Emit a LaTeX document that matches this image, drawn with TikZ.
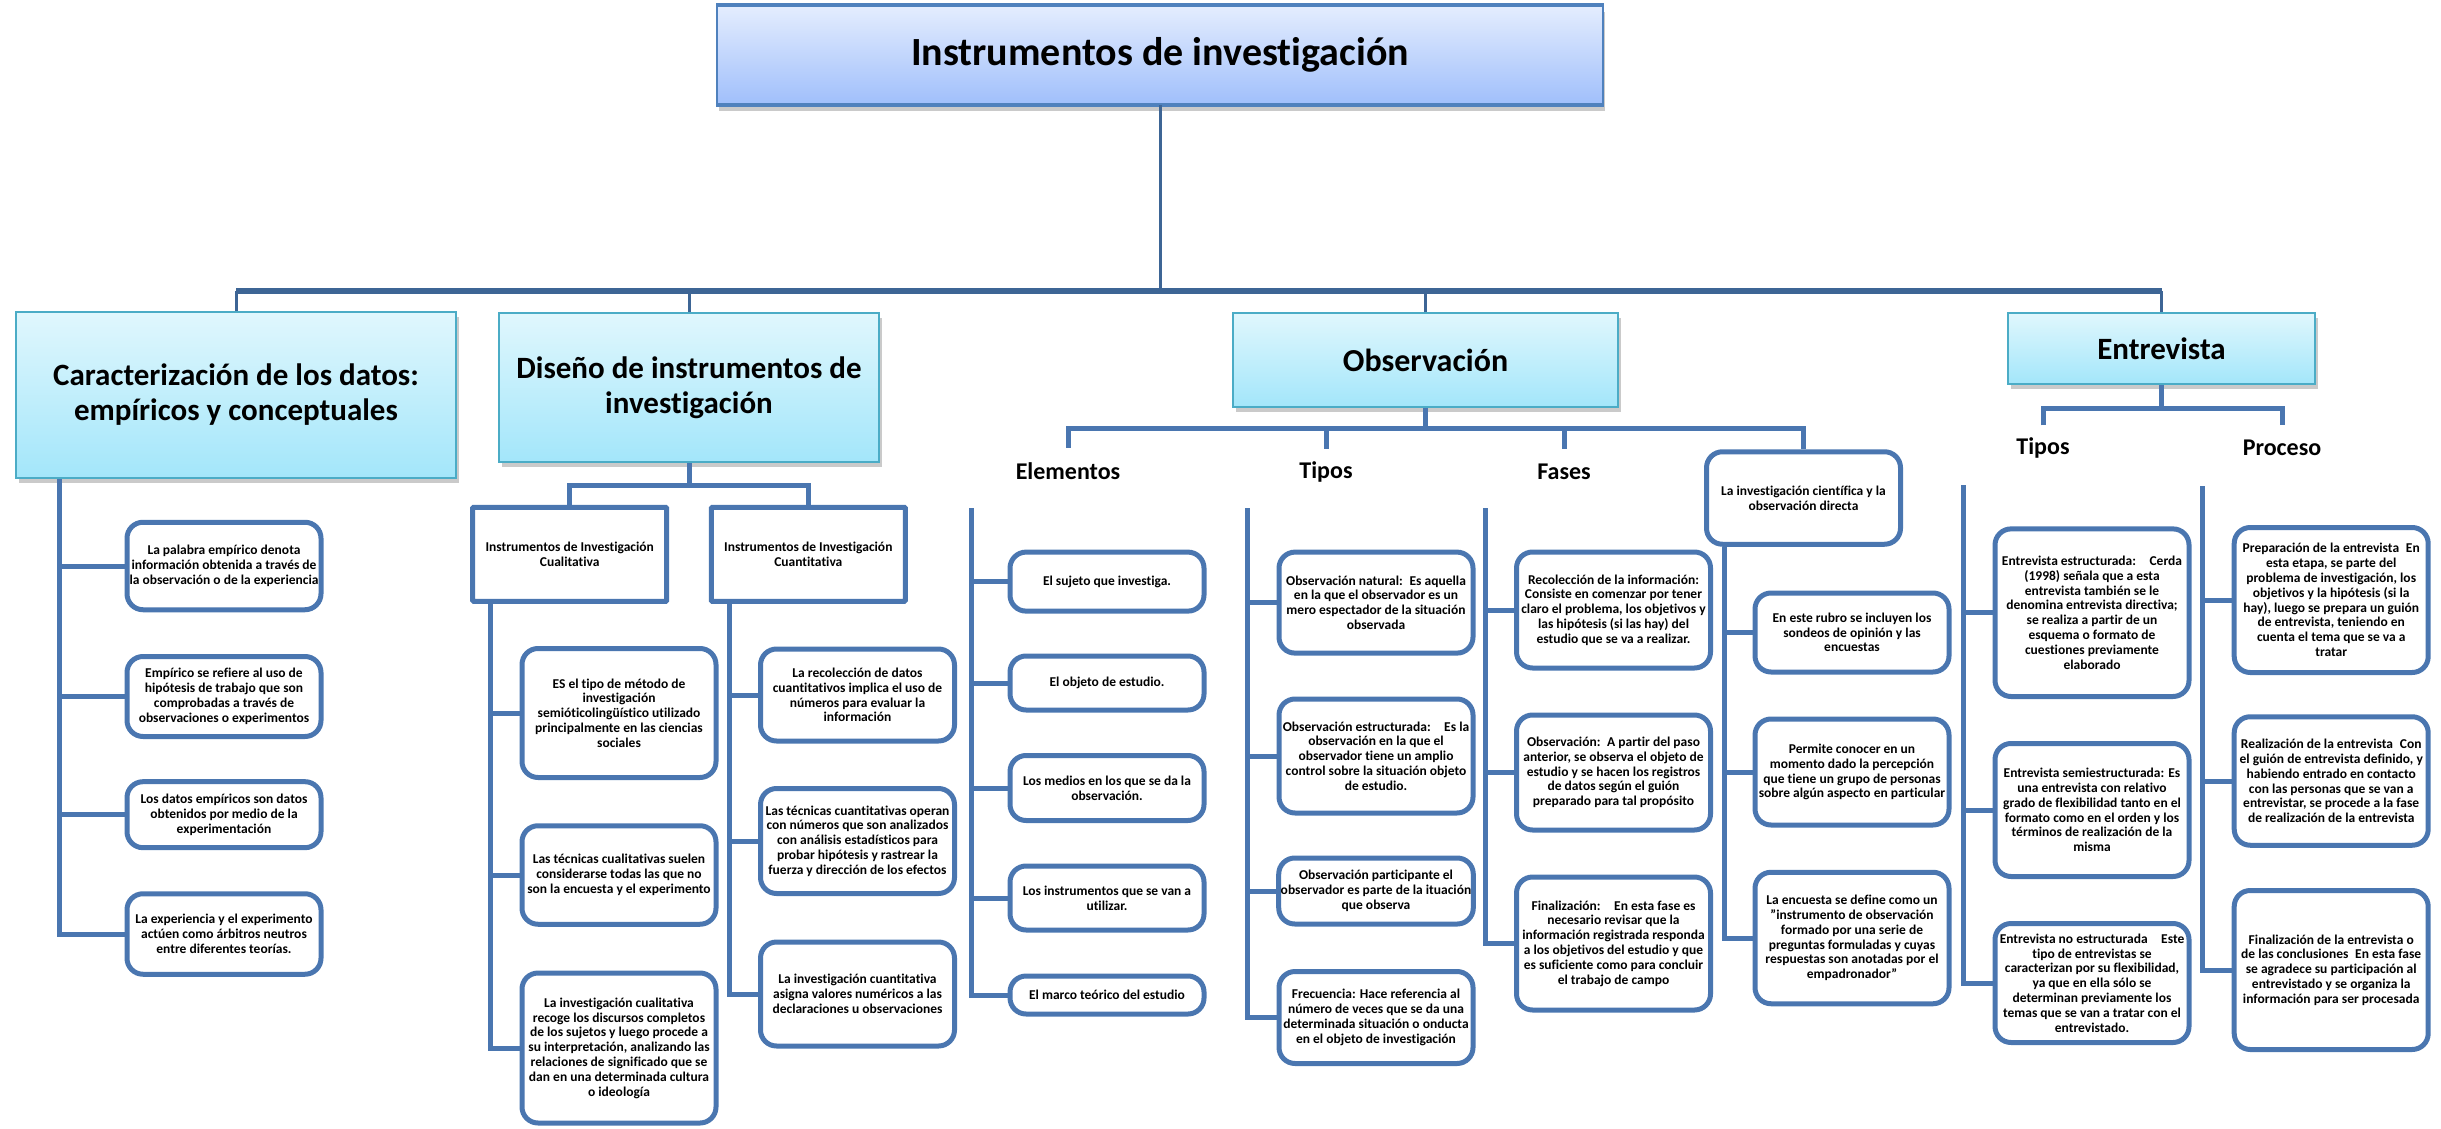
\documentclass[tikz,border=0pt]{standalone}
\usepackage{fontspec}
\setmainfont{Carlito}[Ligatures={NoCommon}]
\usetikzlibrary{shadows}
\definecolor{lineblue}{HTML}{4A76B0}
\definecolor{darkline}{HTML}{3D6595}
\definecolor{ttop}{HTML}{E4EDFE}
\definecolor{tbot}{HTML}{A0BFFB}
\definecolor{tborder}{HTML}{4F81BD}
\definecolor{htop}{HTML}{E0F7FD}
\definecolor{hbot}{HTML}{A3E6FA}
\definecolor{hborder}{HTML}{4BACC6}
\newcommand{\smalltxt}{\fontsize{13.5}{14.8}\selectfont\bfseries}
\begin{document}
\begin{tikzpicture}[x=1pt, y=-1pt,
  lvl1/.style={draw=darkline, line width=3pt},
  br/.style={draw=lineblue, line width=5pt},
  box/.style={draw=lineblue, line width=5pt, rounded corners=16pt, fill=white, align=center, font=\smalltxt, minimum width=194pt, inner sep=2pt},
  sqbox/.style={box, rounded corners=1pt},
  ht/.style={minimum height=#1},
  hdr/.style={draw=hborder, line width=2pt, top color=htop, bottom color=hbot, align=center, font=\fontsize{31}{35}\selectfont\bfseries, drop shadow={shadow xshift=3pt, shadow yshift=-5pt, opacity=0.35, fill=black!60}},
  ttl/.style={draw=tborder, line width=1.5pt, top color=ttop, bottom color=tbot, font=\fontsize{40}{48}\selectfont\bfseries, minimum width=886pt, minimum height=99pt, drop shadow={shadow xshift=2pt, shadow yshift=-7pt, opacity=0.35, fill=black!60}},
  lbl/.style={font=\fontsize{24}{28}\selectfont\bfseries, minimum height=46pt, inner sep=0pt}]
\useasboundingbox (0,0) rectangle (2441,1129);

% ---------- headers ----------
\node[ttl] (title) at (1160,55) {Instrumentos de investigación};
\draw[tborder, line width=4pt] (title.north west) -- (title.north east);
\draw[tborder, line width=4pt] (title.south west) -- (title.south east);
\node[hdr, minimum width=440pt, minimum height=166pt] (car) at (236,395) {Caracterización de los datos:\\ empíricos y conceptuales};
\node[hdr, minimum width=380pt, minimum height=149pt] (dis) at (689,387.5) {Diseño de instrumentos de\\ investigación};
\node[hdr, minimum width=385pt, minimum height=94pt, font=\fontsize{32}{36}\selectfont\bfseries] (obs) at (1425.5,360) {Observación};
\node[hdr, minimum width=307pt, minimum height=71pt] (ent) at (2161.5,348.5) {Entrevista};

% ---------- level-1 connectors ----------
\coordinate (mb) at (0,291);
\draw[lvl1] (title.south) -- (title.south |- mb);
\draw[lvl1, line width=6pt] (car.north |- mb) -- (ent.north |- mb);
\foreach \n in {car,dis,obs,ent} \draw[lvl1] (\n.north) -- (\n.north |- mb);

% ---------- Caracterizacion ----------
\node[box, ht=87.5] (c1) at (224,566) {La palabra empírico denota\\ información obtenida a través de\\ la observación o de la experiencia};
\node[box, ht=80] (c2) at (224,696.5) {Empírico se refiere al uso de\\ hipótesis de trabajo que son\\ comprobadas a través de\\ observaciones o experimentos};
\node[box, ht=66] (c3) at (224,814.7) {Los datos empíricos son datos\\ obtenidos por medio de la\\ experimentación};
\node[box, ht=80.5] (c4) at (224,934) {La experiencia y el experimento\\ actúen como árbitros neutros\\ entre diferentes teorías.};
\coordinate (carv) at (59,0);
\foreach \c in {c1,c2,c3,c4} \draw[br] (car.south -| carv) |- (\c.west);

% ---------- Diseno ----------
\node[sqbox, ht=94] (cual) at (569.7,554.3) {Instrumentos de Investigación\\ Cualitativa};
\node[sqbox, ht=94] (cuan) at (808.3,554.3) {Instrumentos de Investigación\\ Cuantitativa};
\coordinate (dsb) at (0,485.6);
\draw[br] (dis.south) -- (dis.south |- dsb);
\draw[br] (cual.north) -- (cual.north |- dsb) -- (cuan.north |- dsb) -- (cuan.north);

\node[box, ht=129] (q1) at (619,713) {ES el tipo de método de\\ investigación\\ semióticolingüístico utilizado\\ principalmente en las ciencias\\ sociales};
\node[box, ht=98.5] (q2) at (619,875) {Las técnicas cualitativas suelen\\ considerarse todas las que no\\ son la encuesta y el experimento};
\node[box, ht=150] (q3) at (619,1048) {La investigación cualitativa\\ recoge los discursos completos\\ de los sujetos y luego procede a\\ su interpretación, analizando las\\ relaciones de significado que se\\ dan en una determinada cultura\\ o ideología};
\coordinate (qv) at (490.7,0);
\foreach \c in {q1,q2,q3} \draw[br] (cual.south -| qv) |- (\c.west);

\node[box, ht=92] (n1) at (857.5,695) {La recolección de datos\\ cuantitativos implica el uso de\\ números para evaluar la\\ información};
\node[box, ht=105] (n2) at (857.5,841) {Las técnicas cuantitativas operan\\ con números que son analizados\\ con análisis estadísticos para\\ probar hipótesis y rastrear la\\ fuerza y dirección de los efectos};
\node[box, ht=104] (n3) at (857.5,994) {La investigación cuantitativa\\ asigna valores numéricos a las\\ declaraciones u observaciones};
\coordinate (nv) at (729.3,0);
\foreach \c in {n1,n2,n3} \draw[br] (cuan.south -| nv) |- (\c.west);

% ---------- Observacion ----------
\node[lbl] (elem) at (1068,471) {Elementos};
\node[lbl] (otip) at (1326,472) {Tipos};
\node[lbl] (ofas) at (1564,472) {Fases};
\node[box, ht=92.5] (inv) at (1803.5,498) {La investigación científica y la\\ observación directa};
\coordinate (osb) at (0,428);
\draw[br] (obs.south) -- (obs.south |- osb);
\draw[br] (elem.north) -- (elem.north |- osb) -- (inv.north |- osb) -- (inv.north);
\draw[br] (otip.north) -- (otip.north |- osb);
\draw[br] (ofas.north) -- (ofas.north |- osb);

\node[box, ht=59] (e1) at (1107,581.6) {El sujeto que investiga.};
\node[box, ht=54] (e2) at (1107,683) {El objeto de estudio.};
\node[box, ht=65] (e3) at (1107,788) {Los medios en los que se da la\\ observación.};
\node[box, ht=64] (e4) at (1107,898) {Los instrumentos que se van a\\ utilizar.};
\node[box, ht=38] (e5) at (1107,995) {El marco teórico del estudio};
\coordinate (ev) at (971.7,508);
\foreach \c in {e1,e2,e3,e4,e5} \draw[br] (ev) |- (\c.west);

\node[box, ht=101] (t1) at (1376,602.6) {Observación natural:\enspace Es aquella\\ en la que el observador es un\\ mero espectador de la situación\\ observada};
\node[box, ht=114] (t2) at (1376,756) {Observación estructurada:\quad Es la\\ observación en la que el\\ observador tiene un amplio\\ control sobre la situación objeto\\ de estudio.};
\node[box, ht=66] (t3) at (1376,891) {Observación participante el\\ observador es parte de la ituación\\ que observa};
\node[box, ht=92] (t4) at (1376,1017.5) {Frecuencia: Hace referencia al\\ número de veces que se da una\\ determinada situación o onducta\\ en el objeto de investigación};
\coordinate (tv) at (1247,508);
\foreach \c in {t1,t2,t3,t4} \draw[br] (tv) |- (\c.west);

\node[box, ht=116] (f1) at (1613.5,610) {Recolección de la información:\\ Consiste en comenzar por tener\\ claro el problema, los objetivos y\\ las hipótesis (si las hay) del\\ estudio que se va a realizar.};
\node[box, ht=115] (f2) at (1613.5,772.5) {Observación:\enspace A partir del paso\\ anterior, se observa el objeto de\\ estudio y se hacen los registros\\ de datos según el guión\\ preparado para tal propósito};
\node[box, ht=133] (f3) at (1613.5,943.5) {Finalización:\quad En esta fase es\\ necesario revisar que la\\ información registrada responda\\ a los objetivos del estudio y que\\ es suficiente como para concluir\\ el trabajo de campo};
\coordinate (fv) at (1485.6,508);
\foreach \c in {f1,f2,f3} \draw[br] (fv) |- (\c.west);

\node[box, ht=79] (i1) at (1852,632.5) {En este rubro se incluyen los\\ sondeos de opinión y las\\ encuestas};
\node[box, ht=106] (i2) at (1852,772) {Permite conocer en un\\ momento dado la percepción\\ que tiene un grupo de personas\\ sobre algún aspecto en particular};
\node[box, ht=131.5] (i3) at (1852,938) {La encuesta se define como un\\ "instrumento de observación\\ formado por una serie de\\ preguntas formuladas y cuyas\\ respuestas son anotadas por el\\ empadronador"};
\coordinate (iv) at (1724.4,0);
\foreach \c in {i1,i2,i3} \draw[br] (inv.south -| iv) |- (\c.west);

% ---------- Entrevista ----------
\node[lbl, minimum height=44pt] (etip) at (2043,447.5) {Tipos};
\node[lbl, minimum height=44pt] (epro) at (2282,447.5) {Proceso};
\coordinate (esb) at (0,408);
\draw[br] (ent.south) -- (ent.south |- esb);
\draw[br] (etip.north) -- (etip.north |- esb) -- (epro.north |- esb) -- (epro.north);

\node[box, ht=167.6] (et1) at (2092,612.7) {Entrevista estructurada:\quad Cerda\\ (1998) señala que a esta\\ entrevista también se le\\ denomina entrevista directiva;\\ se realiza a partir de un\\ esquema o formato de\\ cuestiones previamente\\ elaborado};
\node[box, ht=133] (et2) at (2092,810) {Entrevista semiestructurada: Es\\ una entrevista con relativo\\ grado de flexibilidad tanto en el\\ formato como en el orden y los\\ términos de realización de la\\ misma};
\node[box, ht=119] (et3) at (2092,983) {Entrevista no estructurada\quad Este\\ tipo de entrevistas se\\ caracterizan por su flexibilidad,\\ ya que en ella sólo se\\ determinan previamente los\\ temas que se van a tratar con el\\ entrevistado.};
\coordinate (etv) at (1963,485);
\foreach \c in {et1,et2,et3} \draw[br] (etv) |- (\c.west);

\node[box, ht=145] (p1) at (2331.2,600) {Preparación de la entrevista\enspace En\\ esta etapa, se parte del\\ problema de investigación, los\\ objetivos y la hipótesis (si la\\ hay), luego se prepara un guión\\ de entrevista, teniendo en\\ cuenta el tema que se va a\\ tratar};
\node[box, ht=128.5] (p2) at (2331.2,781) {Realización de la entrevista\enspace Con\\ el guión de entrevista definido, y\\ habiendo entrado en contacto\\ con las personas que se van a\\ entrevistar, se procede a la fase\\ de realización de la entrevista};
\node[box, ht=159] (p3) at (2331.2,970) {Finalización de la entrevista o\\ de las conclusiones\enspace En esta fase\\ se agradece su participación al\\ entrevistado y se organiza la\\ información para ser procesada};
\coordinate (pv) at (2202.7,486);
\foreach \c in {p1,p2,p3} \draw[br] (pv) |- (\c.west);
\end{tikzpicture}
\end{document}
